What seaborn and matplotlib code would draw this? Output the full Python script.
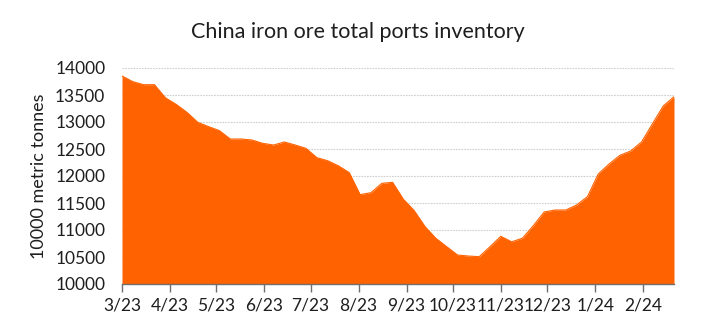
import numpy as np
import pandas as pd
import matplotlib
matplotlib.use("Agg")
import matplotlib.pyplot as plt
import matplotlib.dates as mdates
import seaborn as sns

# Weekly port inventory, 10000 metric tonnes
start_date = "2023-03-01"
inventory = [
    13852, 13747, 13691, 13691, 13450, 13327, 13179, 12994, 12914, 12840,
    12685, 12685, 12667, 12605, 12574, 12630, 12574, 12512, 12340, 12283,
    12188, 12062, 11655, 11691, 11864, 11883, 11568, 11358, 11062, 10846,
    10691, 10537, 10518, 10506, 10691, 10883, 10781, 10849, 11080, 11333,
    11370, 11370, 11463, 11617, 12037, 12222, 12383, 12463, 12630, 12963,
    13296, 13469,
]
y_ticks = [10000, 10500, 11000, 11500, 12000, 12500, 13000, 13500, 14000]
title = "China iron ore total ports inventory"
y_label = "10000 metric tonnes"

dates = pd.date_range(start_date, periods=len(inventory), freq="7D")
df = pd.DataFrame({"date": dates, "inventory": inventory})

sns.set_theme(style="white")
plt.rcParams["font.family"] = ["Lato", "DejaVu Sans"]

orange = "#FF6200"
text_color = "#1e1e1e"
fig = plt.figure(figsize=(7.15, 3.31), dpi=100)
ax = fig.add_axes([122 / 715, 1 - 284 / 331, (674 - 122) / 715, (284 - 68) / 331])

ax.fill_between(df["date"], y_ticks[0], df["inventory"], color=orange, linewidth=0, zorder=2)
sns.lineplot(data=df, x="date", y="inventory", ax=ax, color=orange, linewidth=0.8, zorder=3)

ax.set_ylim(y_ticks[0], y_ticks[-1])
ax.set_xlim(dates[0], dates[-1])
ax.set_yticks(y_ticks)
ax.yaxis.grid(True, color="#cfcfcf", linestyle=(0, (1.5, 1)), linewidth=0.8, zorder=1)
ax.xaxis.grid(False)

month_ticks = pd.date_range("2023-03-01", "2024-02-01", freq="MS")
ax.set_xticks(month_ticks)
ax.set_xticklabels([f"{d.month}/{d.strftime('%y')}" for d in month_ticks])

for side in ["top", "right", "left"]:
    ax.spines[side].set_visible(False)
ax.spines["bottom"].set_color("#707070")
ax.spines["bottom"].set_linewidth(1.0)
ax.spines["bottom"].set_zorder(4)
ax.tick_params(axis="x", bottom=True, length=6, width=1, color="#707070",
               labelsize=12.5, labelcolor=text_color, pad=4)
ax.tick_params(axis="y", left=False, labelsize=12.5, labelcolor=text_color, pad=6)

ax.set_xlabel("")
ax.set_ylabel(y_label, fontsize=13, color=text_color, labelpad=6)
fig.text(0.5, 1 - 32 / 331, title, ha="center", va="center", fontsize=15.5, color=text_color)

fig.savefig("out.png", dpi=100)
